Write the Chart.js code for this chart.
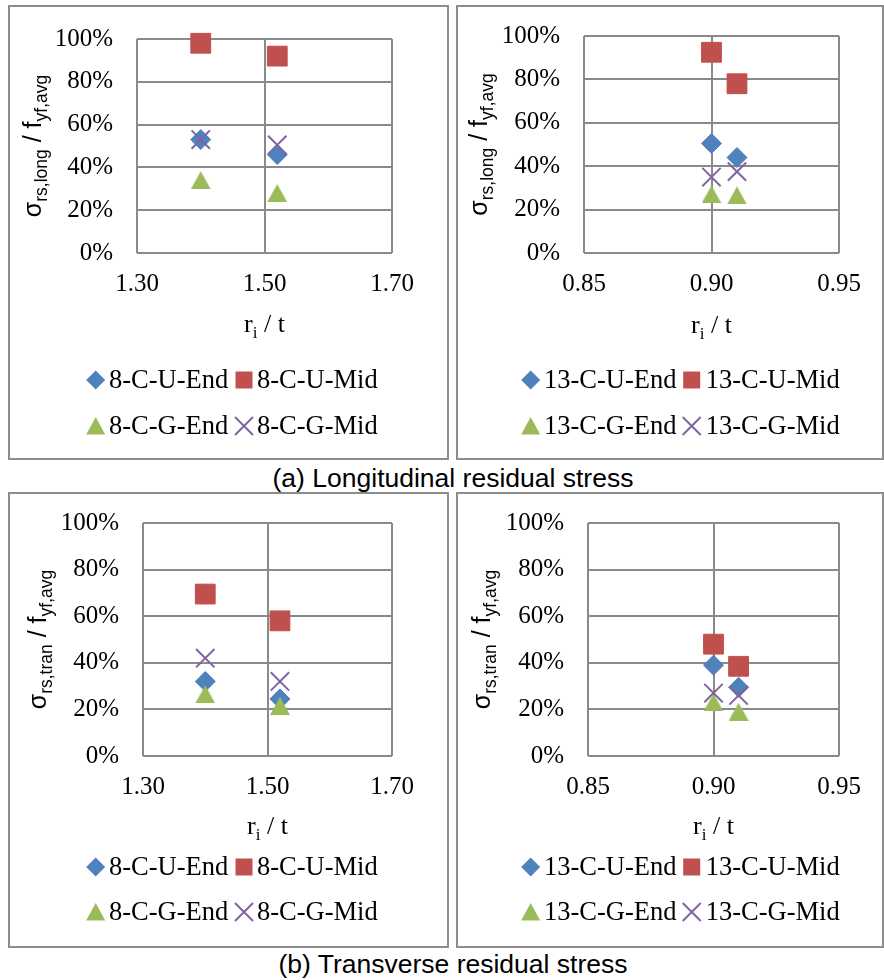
<!DOCTYPE html>
<html>
<head>
<meta charset="utf-8">
<script src="https://cdn.jsdelivr.net/npm/chart.js"></script>
<style>
  body { margin: 0; background: #fff; width: 884px; height: 980px; position: relative; overflow: hidden; }
  .panel { position: absolute; box-sizing: border-box; border: 2px solid #8d8d8d; background: #fff; }
  .panel canvas { display: block; }
  .cap { position: absolute; width: 500px; text-align: center; font: 26.5px "Liberation Sans", Arial, sans-serif; line-height: 30px; color: #000; }
</style>
</head>
<body>
<div class="panel" style="left:8px;top:5px;width:441px;height:455px"><canvas id="c1" width="437" height="451"></canvas></div>
<div class="panel" style="left:456px;top:5px;width:428px;height:455px"><canvas id="c2" width="424" height="451"></canvas></div>
<div class="cap" style="left:203px;top:463px">(a) Longitudinal residual stress</div>
<div class="panel" style="left:8px;top:492px;width:441px;height:456px"><canvas id="c3" width="437" height="452"></canvas></div>
<div class="panel" style="left:456px;top:492px;width:428px;height:456px"><canvas id="c4" width="424" height="452"></canvas></div>
<div class="cap" style="left:203px;top:949px">(b) Transverse residual stress</div>
<script>
// series order: U-End, U-Mid, G-End, G-Mid
const seriesNames = ['C-U-End', 'C-U-Mid', 'C-G-End', 'C-G-Mid'];
const ri8 = [1.40, 1.52];
const ri13 = [0.90, 0.91];
const long8 = [[0.53, 0.46], [0.98, 0.92], [0.34, 0.28], [0.53, 0.505]];
const long13 = [[0.505, 0.44], [0.925, 0.78], [0.27, 0.265], [0.35, 0.375]];
const tran8 = [[0.32, 0.245], [0.695, 0.58], [0.265, 0.215], [0.42, 0.32]];
const tran13 = [[0.39, 0.295], [0.48, 0.385], [0.23, 0.19], [0.27, 0.26]];
const xTicks8 = [1.30, 1.50, 1.70];
const xTicks13 = [0.85, 0.90, 0.95];
const yTicks = [0, 0.2, 0.4, 0.6, 0.8, 1.0];

const colors = ['#4F81BD', '#C0504D', '#9BBB59', '#8064A2'];
const radii = [10, 14, 10, 13];
const gridColor = '#8a8a8a';
const serif = '"Liberation Serif", "Times New Roman", serif';
const sans = '"Liberation Sans", Arial, sans-serif';

Chart.defaults.font.family = serif;

// Excel-like triangle: centred on its bounding box, not its circumcentre
const triImg = document.createElement('canvas');
triImg.width = 20; triImg.height = 18;
(function () {
  const c = triImg.getContext('2d');
  c.fillStyle = colors[2];
  c.beginPath();
  c.moveTo(10, 0); c.lineTo(20, 18); c.lineTo(0, 18);
  c.closePath(); c.fill();
})();
const styles = ['rectRot', 'rect', triImg, 'crossRot'];

function drawRich(ctx, parts, cx, y, mainFont, subFont, shift) {
  let total = 0;
  parts.forEach((p, i) => {
    ctx.font = i % 2 ? subFont : mainFont;
    total += ctx.measureText(p).width;
  });
  let x = cx - total / 2;
  ctx.textAlign = 'left';
  ctx.textBaseline = 'alphabetic';
  parts.forEach((p, i) => {
    ctx.font = i % 2 ? subFont : mainFont;
    ctx.fillText(p, x, y + (i % 2 ? shift : 0));
    x += ctx.measureText(p).width;
  });
}

function drawMarker(ctx, k, x, y) {
  ctx.fillStyle = colors[k];
  ctx.strokeStyle = colors[k];
  ctx.beginPath();
  if (k === 0) {
    ctx.moveTo(x - 9.5, y); ctx.lineTo(x, y - 9.5); ctx.lineTo(x + 9.5, y); ctx.lineTo(x, y + 9.5);
    ctx.closePath(); ctx.fill();
  } else if (k === 1) {
    ctx.fillRect(x - 8.5, y - 8.5, 17, 17);
  } else if (k === 2) {
    ctx.moveTo(x, y - 9); ctx.lineTo(x + 9.5, y + 8.5); ctx.lineTo(x - 9.5, y + 8.5);
    ctx.closePath(); ctx.fill();
  } else {
    ctx.lineWidth = 2;
    ctx.moveTo(x - 9, y - 9); ctx.lineTo(x + 9, y + 9);
    ctx.moveTo(x + 9, y - 9); ctx.lineTo(x - 9, y + 9);
    ctx.stroke();
  }
}

const annot = {
  id: 'annot',
  afterDraw(chart, args, o) {
    const ctx = chart.ctx, a = chart.chartArea;
    ctx.save();
    ctx.fillStyle = '#000';
    // y axis title, rotated
    ctx.save();
    ctx.translate(o.yTitleX, (a.top + a.bottom) / 2);
    ctx.rotate(-Math.PI / 2);
    drawRich(ctx, o.yTitle, 0, 0, '25px ' + sans, '17.5px ' + sans, 6);
    ctx.restore();
    // x axis title
    ctx.fillStyle = '#000';
    drawRich(ctx, ['r', 'i', ' / t'], (a.left + a.right) / 2, o.xTitleY, '26px ' + serif, '17px ' + serif, 6);
    // legend, two rows of two
    seriesNames.forEach((name, k) => {
      const col = k % 2, row = Math.floor(k / 2);
      const mx = o.legX[col], y = o.legY[row];
      drawMarker(ctx, k, mx, y);
      ctx.fillStyle = '#000';
      ctx.font = '26.5px ' + serif;
      ctx.textAlign = 'left';
      ctx.textBaseline = 'middle';
      ctx.fillText(o.prefix + '-' + name, o.legT[col], y + 1);
    });
    ctx.restore();
  }
};

function makeChart(id, xs, values, xTicks, p) {
  const canvas = document.getElementById(id);
  const W = canvas.width, H = canvas.height;
  const datasets = seriesNames.map((name, k) => ({
    label: p.prefix + '-' + name,
    data: xs.map((x, i) => ({ x: x, y: values[k][i] })),
    pointStyle: styles[k],
    pointRadius: radii[k],
    pointHoverRadius: radii[k],
    backgroundColor: colors[k],
    borderColor: colors[k],
    borderWidth: k === 3 ? 2 : 1,
    showLine: false,
    clip: false,
    order: 4 - k
  }));
  const tickFont = { family: serif, size: 25 };
  return new Chart(canvas, {
    type: 'scatter',
    data: { datasets: datasets },
    options: {
      responsive: false,
      animation: false,
      layout: { padding: { left: 0, top: p.plot[1], right: W - p.plot[2], bottom: 0 } },
      plugins: { legend: { display: false }, tooltip: { enabled: false }, annot: p },
      scales: {
        x: {
          type: 'linear',
          min: xTicks[0],
          max: xTicks[xTicks.length - 1],
          afterBuildTicks: s => { s.ticks = xTicks.map(v => ({ value: v })); },
          afterFit: s => { s.height = H - p.plot[3]; },
          ticks: { font: tickFont, color: '#000', padding: 0, maxRotation: 0, autoSkip: false,
                   callback: v => Number(v).toFixed(2) },
          grid: { color: gridColor, lineWidth: 2, drawTicks: true, tickLength: 16, tickColor: 'rgba(0,0,0,0)' },
          border: { display: false }
        },
        y: {
          min: 0,
          max: 1,
          afterBuildTicks: s => { s.ticks = yTicks.map(v => ({ value: v })); },
          afterFit: s => { s.width = p.plot[0]; },
          ticks: { font: tickFont, color: '#000', padding: 0,
                   callback: v => Math.round(v * 100) + '%' },
          grid: { color: gridColor, lineWidth: 2, drawTicks: true, tickLength: 24, tickColor: 'rgba(0,0,0,0)' },
          border: { display: false }
        }
      }
    },
    plugins: [annot]
  });
}

const longTitle = ['σ', 'rs,long', ' / f', 'yf,avg'];
const tranTitle = ['σ', 'rs,tran', ' / f', 'yf,avg'];

makeChart('c1', ri8, long8, xTicks8, {
  prefix: '8', plot: [127, 32, 382, 246], yTitle: longTitle, yTitleX: 31, xTitleY: 325,
  legX: [85.7, 234], legT: [99, 247], legY: [373, 419]
});
makeChart('c2', ri13, long13, xTicks13, {
  prefix: '13', plot: [126, 29, 381, 246], yTitle: longTitle, yTitleX: 29, xTitleY: 326,
  legX: [72.7, 233.7], legT: [86, 247.7], legY: [373, 419]
});
makeChart('c3', ri8, tran8, xTicks8, {
  prefix: '8', plot: [133, 29, 382, 262], yTitle: tranTitle, yTitleX: 35.5, xTitleY: 340,
  legX: [85.7, 234], legT: [99, 247], legY: [373, 418]
});
makeChart('c4', ri13, tran13, xTicks13, {
  prefix: '13', plot: [130, 29, 381, 262], yTitle: tranTitle, yTitleX: 32, xTitleY: 340,
  legX: [72.7, 233.7], legT: [86, 247.7], legY: [373, 418]
});
</script>
</body>
</html>
